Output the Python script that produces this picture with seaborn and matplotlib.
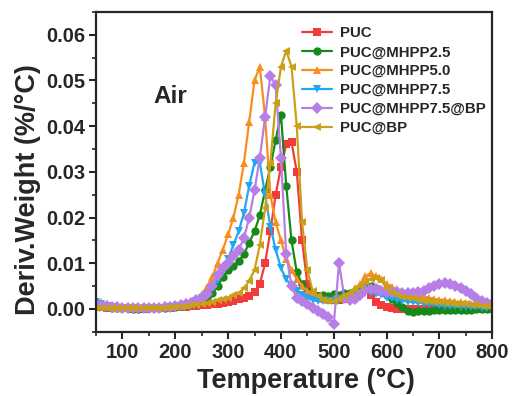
import numpy as np
import pandas as pd
import matplotlib
matplotlib.use("Agg")
import matplotlib.pyplot as plt
from matplotlib.ticker import MultipleLocator
import seaborn as sns

# temperature grid (°C), one point every 10 °C
temperature = list(range(50, 801, 10))

# DTG values, in units of 1e-3 %/°C
puc = [0.5, 0.5, 0.3, 0.2, 0.2, 0.2, 0.2, 0.1, 0.1, 0.1, 0.2, 0.2, 0.2, 0.3, 0.3, 0.4,
       0.4, 0.5, 0.6, 0.7, 0.8, 0.9, 1.0, 1.2, 1.4, 1.6, 1.8, 2.1, 2.4, 2.9, 3.7, 5.5,
       10.0, 17.0, 25.0, 31.0, 36.0, 36.5, 30.0, 15.0, 5.5, 3.5, 2.8, 2.4, 2.2, 2.0,
       2.0, 2.2, 2.6, 3.2, 4.0, 4.5, 3.0, 1.6, 0.8, 0.5, 0.2, 0.1, 0.0, 0.0, 0.0, 0.0,
       0.1, 0.1, 0.1, 0.1, 0.1, 0.1, 0.1, 0.1, 0.1, 0.1, 0.1, 0.1, 0.1, 0.1]
mhpp25 = [0.8, 0.6, 0.4, 0.3, 0.2, 0.2, 0.2, 0.1, 0.1, 0.2, 0.2, 0.2, 0.3, 0.3, 0.4, 0.5,
          0.6, 0.8, 1.0, 1.4, 1.8, 2.5, 3.5, 5.0, 7.0, 8.5, 9.5, 10.5, 12.0, 14.5, 17.0,
          20.5, 26.0, 31.0, 37.0, 42.5, 27.0, 15.0, 8.0, 5.5, 4.0, 3.0, 2.8, 3.0, 2.8,
          3.2, 3.0, 3.4, 3.6, 3.8, 4.2, 4.8, 5.0, 4.5, 3.8, 3.0, 2.2, 1.3, 0.5, -0.4,
          -0.6, -0.5, -0.4, -0.4, -0.3, -0.3, -0.3, -0.2, -0.3, -0.2, -0.2, -0.2, -0.1,
          -0.1, -0.1, 0.0]
mhpp50 = [0.5, 1.5, 1.2, 0.5, 0.3, 0.2, 0.2, 0.2, 0.2, 0.2, 0.2, 0.3, 0.3, 0.4, 0.5, 0.6,
          0.8, 1.1, 1.5, 2.2, 3.2, 4.8, 7.0, 10.0, 13.0, 16.3, 20.0, 25.0, 32.0, 41.0,
          50.0, 53.0, 42.0, 25.0, 19.0, 15.0, 11.0, 8.5, 6.5, 5.0, 4.0, 3.2, 2.5, 2.2,
          2.0, 2.2, 2.4, 2.8, 3.5, 4.5, 5.5, 7.2, 7.8, 7.2, 6.5, 5.5, 4.8, 4.3, 3.8, 3.5,
          3.2, 3.0, 2.7, 2.5, 2.2, 2.0, 1.9, 1.7, 1.6, 1.5, 1.3, 1.2, 1.1, 1.0, 0.9, 0.8]
mhpp75 = [1.5, 1.2, 0.6, 0.4, 0.3, 0.2, 0.1, 0.1, 0.1, 0.1, 0.2, 0.2, 0.2, 0.3, 0.4, 0.5,
          0.7, 0.9, 1.2, 1.7, 2.4, 3.3, 4.5, 6.3, 8.5, 11.0, 14.0, 17.0, 21.0, 27.0, 32.0,
          32.0, 25.0, 18.0, 13.0, 9.0, 6.5, 5.0, 4.0, 3.0, 2.4, 2.0, 1.8, 1.8, 1.8, 1.8,
          2.0, 2.2, 2.5, 2.8, 3.2, 3.6, 3.5, 3.3, 3.0, 2.5, 2.3, 2.0, 1.8, 1.6, 1.5, 1.4,
          1.2, 1.1, 1.0, 0.8, 0.7, 0.6, 0.6, 0.5, 0.5, 0.4, 0.4, 0.3, 0.3, 0.3]
mhpp75_bp = [0.8, 0.9, 0.7, 0.5, 0.4, 0.3, 0.3, 0.3, 0.3, 0.3, 0.3, 0.3, 0.3, 0.4, 0.5,
             0.6, 0.8, 1.0, 1.4, 1.9, 2.5, 3.2, 5.0, 7.5, 9.0, 10.0, 11.5, 13.0, 15.5,
             20.0, 26.0, 33.0, 42.0, 51.0, 49.0, 33.0, 12.0, 5.0, 2.5, 1.7, 1.0, 0.3,
             -0.4, -1.0, -1.8, -3.3, 10.0, 2.5, 2.0, 2.2, 3.0, 4.2, 4.4, 4.3, 4.0, 3.8,
             3.8, 3.7, 3.6, 3.6, 3.6, 3.8, 4.0, 4.5, 5.0, 5.4, 5.6, 5.4, 5.0, 4.6, 4.0,
             3.2, 2.4, 1.8, 1.4, 1.0]
puc_bp = [0.3, 0.3, 0.3, 0.2, 0.2, 0.2, 0.2, 0.2, 0.2, 0.2, 0.2, 0.2, 0.3, 0.3, 0.4, 0.4,
          0.5, 0.6, 0.8, 0.9, 1.0, 1.3, 1.6, 1.9, 2.2, 2.5, 3.0, 3.5, 4.5, 6.2, 8.5,
          14.0, 22.0, 32.0, 45.0, 53.0, 56.5, 53.0, 40.0, 19.0, 8.5, 4.0, 2.8, 2.0, 1.8,
          1.8, 2.2, 2.8, 3.5, 4.3, 5.0, 5.8, 6.5, 6.8, 6.3, 4.5, 3.6, 3.0, 2.7, 2.5, 2.3,
          2.0, 1.8, 1.7, 1.6, 1.5, 1.4, 1.3, 1.2, 1.1, 1.0, 0.9, 0.8, 0.7, 0.6, 0.5]

names = ["PUC", "PUC@MHPP2.5", "PUC@MHPP5.0", "PUC@MHPP7.5", "PUC@MHPP7.5@BP", "PUC@BP"]
series = [puc, mhpp25, mhpp50, mhpp75, mhpp75_bp, puc_bp]
colors = ["#F23B3B", "#17891A", "#F88E1E", "#1DA9F1", "#B77FE6", "#C9A018"]
markers = ["s", "o", "^", "v", "D", "<"]

sns.set_style("ticks")
plt.rcParams["font.family"] = ["Liberation Sans", "DejaVu Sans"]
plt.rcParams["font.weight"] = "bold"

fig = plt.figure(figsize=(5.12, 3.96), dpi=100)
ax = fig.add_axes([0.1875, 0.162, 0.774, 0.808])

for name, vals, col, mk in zip(names, series, colors, markers):
    df = pd.DataFrame({"T": temperature, "dtg": np.array(vals) / 1000})
    sns.lineplot(data=df, x="T", y="dtg", ax=ax, color=col, marker=mk,
                 markersize=6, markeredgewidth=0, linewidth=1.6, label=name)

ax.set_xlim(50, 800)
ax.set_ylim(-0.005, 0.065)
ax.xaxis.set_major_locator(MultipleLocator(100))
ax.xaxis.set_minor_locator(MultipleLocator(50))
ax.yaxis.set_minor_locator(MultipleLocator(0.005))
ax.set_yticks([0.0, 0.01, 0.02, 0.03, 0.04, 0.05, 0.06])
ax.set_yticklabels(["0.00", "0.01", "0.02", "0.03", "0.04", "0.05", "0.06"])

ax.tick_params(which="major", direction="out", length=5, width=1.5, labelsize=14.5, pad=3)
ax.tick_params(which="minor", direction="out", length=3, width=1.2)
for lab in ax.get_xticklabels() + ax.get_yticklabels():
    lab.set_fontweight("bold")
for sp in ax.spines.values():
    sp.set_linewidth(1.6)
    sp.set_visible(True)

ax.set_xlabel("Temperature (°C)", fontsize=19.5, fontweight="bold")
ax.set_ylabel("Deriv.Weight (%/°C)", fontsize=19.5, fontweight="bold")
ax.xaxis.set_label_coords(0.53, -0.112)
ax.yaxis.set_label_coords(-0.14, 0.445)

ax.text(158, 0.0465, "Air", fontsize=17.5, fontweight="bold", va="center", ha="left")

ax.legend(loc="upper left", bbox_to_anchor=(0.52, 0.955), frameon=False,
          prop={"weight": "bold", "size": 10.8}, handlelength=2.0, handletextpad=0.5,
          labelspacing=0.33, borderpad=0, borderaxespad=0)

fig.savefig("out.png", dpi=100)
